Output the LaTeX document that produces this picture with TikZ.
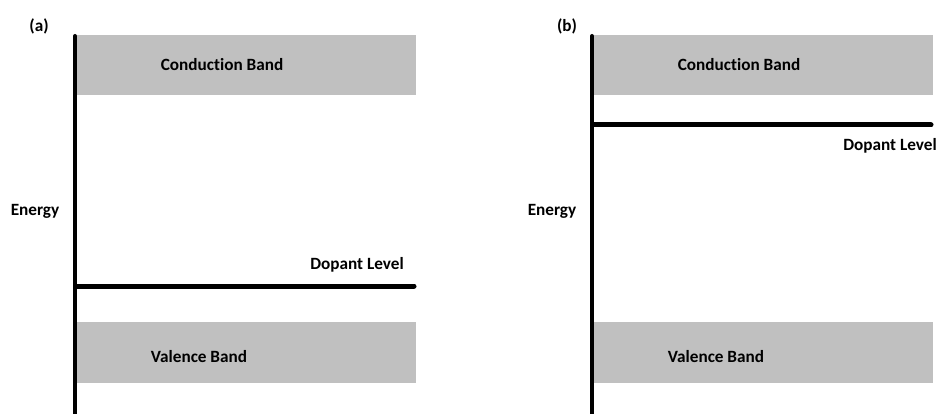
\documentclass[tikz,border=0pt]{standalone}
\usepackage{fontspec}
\setmainfont{Carlito}[Ligatures=NoCommon]
\usetikzlibrary{positioning}
\definecolor{bandgray}{RGB}{192,192,192}

\begin{document}
\begin{tikzpicture}[x=1pt,y=-1pt,
lbl/.style={font=\bfseries\fontsize{17.2}{20}\selectfont,inner sep=0pt},
band/.style={fill=bandgray,draw=none},
axis/.style={line width=4pt,line cap=round},
level/.style={line width=5pt,line cap=round}]
 \useasboundingbox (0,0) rectangle (937,414);
 % panel (a): dopant near valence band, (b): dopant near conduction band
 \foreach \P/\X/\T/\D/\DX/\DY in {a/0/39/286/357/265,b/517/567/125/373/146}
 {%
  \coordinate (top\P) at (\X+75,36);
  \coordinate (bot\P) at (\X+75,416);
  \fill[band] (\X+77,35) rectangle (\X+416,95);
  \fill[band] (\X+77,322) rectangle (\X+416,383);
  \draw[axis] (top\P) -- (bot\P);
  \coordinate (ds\P) at (\X+77,\D);
  \coordinate (de\P) at (\X+414,\D);
  \draw[level] (ds\P) -- (de\P);
  \node[lbl] (tag\P) at (\T,26) {(\P)};
  \node[lbl] (cb\P) at (\X+222,65) {Conduction Band};
  \node[lbl] (vb\P) at (\X+199,357) {Valence Band};
  \node[lbl] (en\P) at (\X+35,211) {Energy};
  \node[lbl] (dl\P) at (\X+\DX,\DY) {Dopant Level};
 }
\end{tikzpicture}
\end{document}
